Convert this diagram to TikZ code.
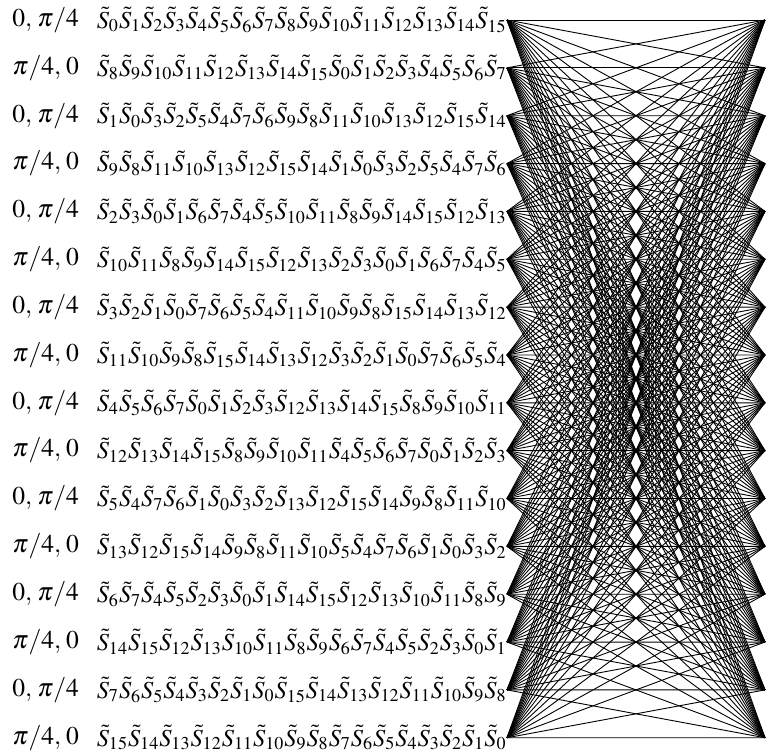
\documentclass[tikz,border=0pt]{standalone}
\usepackage{mathptmx}
\usetikzlibrary{positioning}

\newcommand{\Srow}[1]{\foreach \k in {#1}{\tilde{S}_{\k}}}

\begin{document}
\begin{tikzpicture}[
  x=0.5pt, y=-0.5pt,
  every node/.style={inner sep=0pt, font=\fontsize{12.2}{14}\selectfont},
  seq/.style={anchor=east},
  phase/.style={left=8.5pt of #1, font=\fontsize{12.8}{15}\selectfont},
  link/.style={line width=0.45pt}
]
 \useasboundingbox (0,0) rectangle (768,756);

 % state rows, line ends at the east anchors
 \node[seq] (s1)  at (507, 20.00) {$\Srow{0,1,2,3,4,5,6,7,8,9,10,11,12,13,14,15}$};
 \node[seq] (s2)  at (507, 67.85) {$\Srow{8,9,10,11,12,13,14,15,0,1,2,3,4,5,6,7}$};
 \node[seq] (s3)  at (507,115.70) {$\Srow{1,0,3,2,5,4,7,6,9,8,11,10,13,12,15,14}$};
 \node[seq] (s4)  at (507,163.55) {$\Srow{9,8,11,10,13,12,15,14,1,0,3,2,5,4,7,6}$};
 \node[seq] (s5)  at (507,211.40) {$\Srow{2,3,0,1,6,7,4,5,10,11,8,9,14,15,12,13}$};
 \node[seq] (s6)  at (507,259.25) {$\Srow{10,11,8,9,14,15,12,13,2,3,0,1,6,7,4,5}$};
 \node[seq] (s7)  at (507,307.10) {$\Srow{3,2,1,0,7,6,5,4,11,10,9,8,15,14,13,12}$};
 \node[seq] (s8)  at (507,354.95) {$\Srow{11,10,9,8,15,14,13,12,3,2,1,0,7,6,5,4}$};
 \node[seq] (s9)  at (507,402.80) {$\Srow{4,5,6,7,0,1,2,3,12,13,14,15,8,9,10,11}$};
 \node[seq] (s10) at (507,450.65) {$\Srow{12,13,14,15,8,9,10,11,4,5,6,7,0,1,2,3}$};
 \node[seq] (s11) at (507,498.50) {$\Srow{5,4,7,6,1,0,3,2,13,12,15,14,9,8,11,10}$};
 \node[seq] (s12) at (507,546.35) {$\Srow{13,12,15,14,9,8,11,10,5,4,7,6,1,0,3,2}$};
 \node[seq] (s13) at (507,594.20) {$\Srow{6,7,4,5,2,3,0,1,14,15,12,13,10,11,8,9}$};
 \node[seq] (s14) at (507,642.05) {$\Srow{14,15,12,13,10,11,8,9,6,7,4,5,2,3,0,1}$};
 \node[seq] (s15) at (507,689.90) {$\Srow{7,6,5,4,3,2,1,0,15,14,13,12,11,10,9,8}$};
 \node[seq] (s16) at (507,737.75) {$\Srow{15,14,13,12,11,10,9,8,7,6,5,4,3,2,1,0}$};

 % phase labels
 \foreach \i in {1,3,...,15}
  \node[phase=s\i] (p\i) {$0,\mkern1.5mu\pi/4$};
 \foreach \i in {2,4,...,16}
  \node[phase=s\i] (p\i) {$\pi/4,\mkern1.5mu0$};

 % right column
 \foreach \j in {1,...,16}
  \coordinate (r\j) at (765, {20+47.85*(\j-1)});

 % every row to every right point
 \foreach \i in {1,...,16}
  \foreach \j in {1,...,16}
   \draw[link] (s\i.east) -- (r\j);
\end{tikzpicture}
\end{document}
